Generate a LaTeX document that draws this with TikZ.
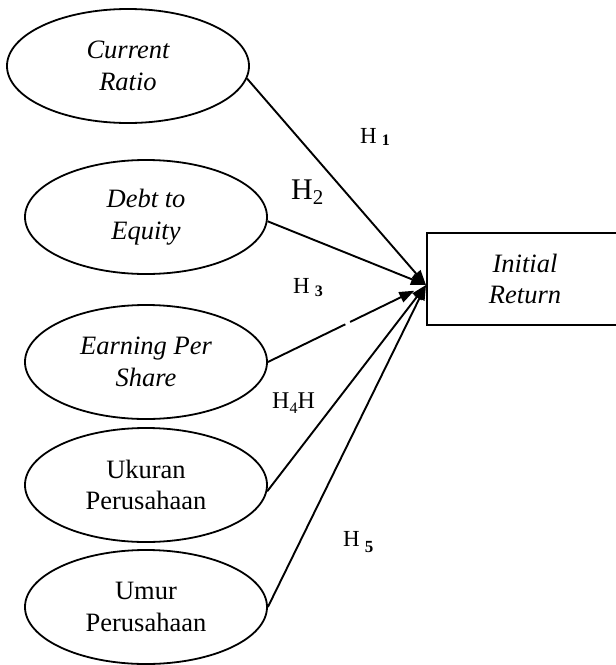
\documentclass[tikz,border=0pt]{standalone}
\usepackage{fontspec}
\setmainfont{Liberation Serif}
\usetikzlibrary{arrows.meta,calc,shapes.geometric}
\begin{document}
\begin{tikzpicture}[x=1pt,y=-1pt,
  varel/.style={draw,ellipse,line width=1.8pt,minimum width=242pt,minimum height=114pt,inner sep=0pt,align=center,
    font=\fontsize{26.5}{31.5}\selectfont},
  depbox/.style={draw,rectangle,line width=1.8pt,minimum width=196pt,minimum height=92pt,inner sep=0pt,align=center,
    font=\fontsize{26.5}{31.5}\selectfont\itshape},
  conn/.style={line width=1.9pt},
  arr/.style={line width=1.9pt,-{Triangle[length=15pt,width=11pt]}},
  hlab/.style={anchor=base west,inner sep=0pt}
]
\useasboundingbox (0,0) rectangle (616,665);
\fill[white] (0,0) rectangle (616,665);

\node[varel] (e1) at (128,66) {\itshape Current\\\itshape Ratio};
\node[varel] (e2) at (146,217) {\itshape Debt to\\\itshape Equity};
\node[varel] (e3) at (146,362) {\itshape Earning Per\\\itshape Share};
\node[varel] (e4) at (146,485) {Ukuran\\Perusahaan};
\node[varel] (e5) at (146,607) {Umur\\Perusahaan};

\node[depbox] (ir) at (525,279) {Initial\\Return};
\coordinate (t) at (426,285);

\draw[arr] (e1.-6) -- (t);
\draw[arr] (e2.-2) -- (t);
\draw[conn] (e3.east) -- ($(e3.east)!0.49!(t)$);
\draw[arr,shorten >=13pt] ($(e3.east)!0.52!(t)$) -- (t);
\draw[arr] (e4.-3) -- (t);
\draw[arr] (e5.east) -- (t);

\node[hlab] (h1) at (360,143) {\fontsize{23}{26}\selectfont H\hspace{5pt}\raisebox{-2pt}{\fontsize{16}{18}\selectfont\bfseries 1}};
\node[hlab] (h2) at (291,199) {\fontsize{30}{33}\selectfont H\raisebox{-5pt}{\fontsize{21}{24}\selectfont 2}};
\node[hlab] (h3) at (293,293) {\fontsize{23}{26}\selectfont H\hspace{5pt}\raisebox{-3pt}{\fontsize{16}{18}\selectfont\bfseries 3}};
\node[hlab] (h4) at (272,408) {\fontsize{24}{27}\selectfont H\raisebox{-5pt}{\fontsize{16}{18}\selectfont 4}H};
\node[hlab] (h5) at (343,546) {\fontsize{23}{26}\selectfont H\hspace{5pt}\raisebox{-6pt}{\fontsize{17}{19}\selectfont\bfseries 5}};

\node[hlab] (cap) at (476,684) {\fontsize{26}{30}\selectfont\bfseries Gambar 2.1};
\end{tikzpicture}
\end{document}
